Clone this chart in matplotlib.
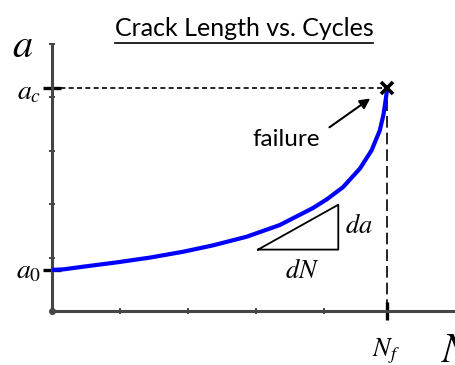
import matplotlib
matplotlib.use("Agg")
import matplotlib.pyplot as plt
from matplotlib.lines import Line2D

plt.rcParams["mathtext.fontset"] = "stix"

# crack growth curve, a(N), arbitrary units
cycles = [0.0, 0.17, 0.46, 0.95, 1.44, 1.93, 2.37, 2.86, 3.35, 3.84, 4.04,
          4.28, 4.53, 4.70, 4.82, 4.875, 4.91, 4.93]
crack = [0.77, 0.78, 0.83, 0.91, 1.00, 1.11, 1.23, 1.39, 1.61, 1.93, 2.09,
         2.32, 2.67, 3.01, 3.38, 3.68, 3.98, 4.17]

a0 = 0.77     # initial crack length
ac = 4.17     # critical crack length
Nf = 4.93     # cycles to failure

# slope triangle da/dN
tri_n = [3.03, 4.21, 4.21, 3.03]
tri_a = [1.15, 1.15, 1.99, 1.15]

minor_x = [1, 2, 3, 4]
minor_y = [1, 2, 3, 4, 5]

axis_col = "#454545"

fig = plt.figure(figsize=(4.56, 3.65), dpi=100)
ax = fig.add_axes([52 / 456, 54 / 365, 404 / 456, 267 / 365])
ax.set_xlim(0, 404 / 68)
ax.set_ylim(0, 267 / 53.5)

for s in ["top", "right"]:
    ax.spines[s].set_visible(False)
for s in ["left", "bottom"]:
    ax.spines[s].set_linewidth(2.2)
    ax.spines[s].set_color(axis_col)

ax.set_xticks([Nf])
ax.set_xticks(minor_x, minor=True)
ax.set_yticks([a0, ac])
ax.set_yticks(minor_y, minor=True)
ax.set_xticklabels([])
ax.set_yticklabels([])
ax.tick_params(which="major", direction="inout", length=13, width=2.4, color="black")
ax.tick_params(which="minor", direction="inout", length=5, width=1.4, color=axis_col)

# the curve
ax.plot(cycles, crack, color="#0000ff", lw=3, solid_capstyle="butt",
        solid_joinstyle="round", zorder=3)

# dashed guides to the failure point
ax.plot([0, Nf], [ac, ac], color="black", lw=1.2, ls=(0, (3, 2)), zorder=2)
ax.plot([Nf, Nf], [0, ac], color="black", lw=1.2, ls=(0, (7, 3)), zorder=2)
ax.plot([Nf], [ac], marker="x", ms=9, mew=2.6, color="black", zorder=4, clip_on=False)
ax.plot([0], [0], marker="o", ms=4, color=axis_col, clip_on=False, zorder=5)

# slope triangle
ax.plot(tri_n, tri_a, color="black", lw=1.3)
ax.text(4.51, 1.59, r"$da$", fontsize=19, ha="center", va="center")
ax.text(3.68, 0.75, r"$dN$", fontsize=19, ha="center", va="center")

# failure annotation
ax.text(3.45, 3.21, "failure", fontsize=17.5, family="Lato", ha="center", va="center")
ax.annotate("", xy=(4.68, 3.98), xytext=(4.08, 3.44),
            arrowprops=dict(arrowstyle="-|>,head_length=0.6,head_width=0.3",
                            color="black", lw=1.5, shrinkA=0, shrinkB=0))

# axis symbols
ax.text(-0.16, 4.11, r"$a_c$", fontsize=20, ha="right", va="center", clip_on=False)
ax.text(-0.16, 0.76, r"$a_0$", fontsize=20, ha="right", va="center", clip_on=False)
ax.text(4.91, -0.75, r"$N_f$", fontsize=19, ha="center", va="center", clip_on=False)
ax.text(-0.43, 4.97, r"$a$", fontsize=29, ha="center", va="center", clip_on=False)
ax.text(5.72, -0.72, r"$N$", fontsize=30, ha="left", va="center", clip_on=False)

# underlined title
title = fig.text(244 / 456, 1 - 29 / 365, "Crack Length vs. Cycles", fontsize=18,
                 family="Lato", ha="center", va="center")
fig.canvas.draw()
bb = title.get_window_extent().transformed(fig.transFigure.inverted())
yline = 1 - 43 / 365
fig.add_artist(Line2D([bb.x0, bb.x1], [yline, yline], color="black", lw=1.2))

fig.savefig("out.png", dpi=100)
plt.close(fig)
